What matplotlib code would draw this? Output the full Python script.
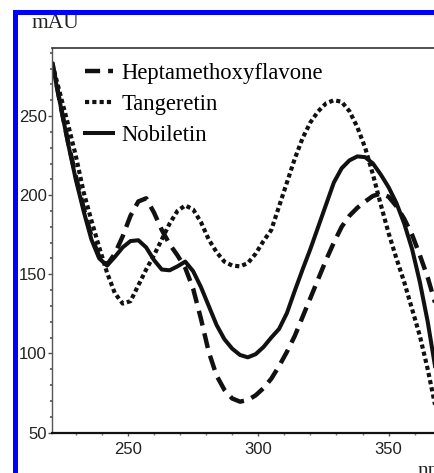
import matplotlib
matplotlib.use("Agg")
import matplotlib.pyplot as plt
from matplotlib.patches import Rectangle
from matplotlib.ticker import MultipleLocator
from matplotlib.font_manager import FontProperties

# ---- data ----
wavelength = [221, 224, 227, 230, 233, 236, 239, 242, 245, 248, 251, 254, 257, 260,
              263, 266, 269, 272, 275, 278, 281, 284, 287, 290, 293, 296, 299, 302,
              305, 308, 311, 314, 317, 320, 323, 326, 329, 332, 335, 338, 341, 344,
              347, 350, 353, 356, 359, 362, 365, 368, 371]

heptamethoxyflavone = [284, 258, 234, 212, 192, 174, 161, 156, 163, 174, 187, 196, 198, 189,
                       178, 169, 162, 154, 141, 122, 101, 86, 77, 71.5, 69.5, 70.5, 73.5, 78,
                       84, 92, 101, 111, 123, 135, 147, 159, 170, 180, 187, 192, 196, 199.5,
                       201, 199, 193, 185, 175, 162, 148, 131, 112]

tangeretin = [283, 264, 245, 225, 202, 184, 167, 151, 138, 131.5, 133, 143, 153, 162,
              172, 182, 190, 193.5, 191, 183, 172, 164, 158, 155.5, 155, 157, 163, 171,
              178, 193, 208, 223, 236, 246, 253, 258, 260, 259, 253, 243, 230, 213,
              194, 176, 160, 145, 128, 111, 90, 66, 42]

nobiletin = [283, 258, 233, 210, 190, 172, 160, 155.5, 161, 167, 171, 171.5, 167, 159,
             153, 152.5, 155, 158, 152, 142, 130, 118, 109, 103, 99, 97.5, 99.5, 104,
             110, 115.5, 125.5, 139.5, 153, 166, 180, 194, 208, 217, 222, 224.5, 224, 220,
             213, 205, 195, 182, 166, 145, 120, 90, 60]

series_names = ["Heptamethoxyflavone", "Tangeretin", "Nobiletin"]
y_ticks = [50, 100, 150, 200, 250]
x_ticks = [250, 300, 350]

# ---- figure ----
W, H = 434, 473
fig = plt.figure(figsize=(W / 100, H / 100), dpi=100, facecolor="white")

left_px, top_px, bottom_px = 52.3, 48, 432.5
x0, x1 = 221, 380
px_per_nm = 2.607
right_px = left_px + (x1 - x0) * px_per_nm
ax = fig.add_axes([left_px / W, 1 - bottom_px / H,
                   (right_px - left_px) / W, (bottom_px - top_px) / H])

ax.plot(wavelength, heptamethoxyflavone, color="#111111", lw=3.2,
        linestyle=(0, (3.4, 1.8)), label=series_names[0])
ax.plot(wavelength, tangeretin, color="#111111", lw=3.0,
        linestyle=(0, (1.0, 0.75)), label=series_names[1])
ax.plot(wavelength, nobiletin, color="#111111", lw=2.9,
        linestyle="-", label=series_names[2])

ax.set_xlim(x0, x1)
ax.set_ylim(50, 293)
ax.set_xticks(x_ticks)
ax.set_yticks(y_ticks)
ax.xaxis.set_minor_locator(MultipleLocator(10))
ax.yaxis.set_minor_locator(MultipleLocator(10))

tick_font = "Liberation Sans"
for lab in ax.get_xticklabels() + ax.get_yticklabels():
    lab.set_fontfamily(tick_font)
ax.tick_params(axis="y", which="major", direction="out", length=3.2, width=1.0,
               color="#555555", pad=0.8, labelsize=12, labelcolor="#222222")
ax.tick_params(axis="y", which="minor", direction="out", length=1.5, width=1.2,
               color="#555555")
ax.tick_params(axis="x", which="major", direction="out", length=2.5, width=1.0,
               color="#555555", pad=4, labelsize=12, labelcolor="#222222")
ax.tick_params(axis="x", which="minor", direction="out", length=1.5, width=1.0,
               color="#777777")

ax.spines["left"].set_linewidth(1.0)
ax.spines["left"].set_color("#555555")
ax.spines["bottom"].set_linewidth(1.6)
ax.spines["bottom"].set_color("#111111")
ax.spines["top"].set_linewidth(1.2)
ax.spines["top"].set_color("#333333")
ax.spines["right"].set_visible(False)

leg = ax.legend(loc="upper left", bbox_to_anchor=(85 / W, 1 - 63 / H),
                bbox_transform=fig.transFigure, frameon=False, borderpad=0,
                borderaxespad=0, handlelength=1.25, handletextpad=0.35,
                labelspacing=0.45,
                prop=FontProperties(family="Liberation Serif", size=16.3))

serif = FontProperties(family="Liberation Serif", size=15.5)
fig.text(31.7 / W, 1 - 28 / H, "mAU", fontproperties=serif, va="baseline",
         ha="left", color="#222222")
fig.text(418 / W, 1 - 476 / H, "nm", fontproperties=serif, va="baseline",
         ha="left", color="#222222")

# blue frame
fig.patches.append(Rectangle((13 / W, 1 - 15 / H), 1 - 13 / W, 5 / H,
                             transform=fig.transFigure, facecolor="#0000ff",
                             edgecolor="none", zorder=10))
fig.patches.append(Rectangle((13 / W, 0), 4.5 / W, 1 - 10 / H,
                             transform=fig.transFigure, facecolor="#0000ff",
                             edgecolor="none", zorder=10))

fig.savefig("out.png", dpi=100, facecolor="white")
